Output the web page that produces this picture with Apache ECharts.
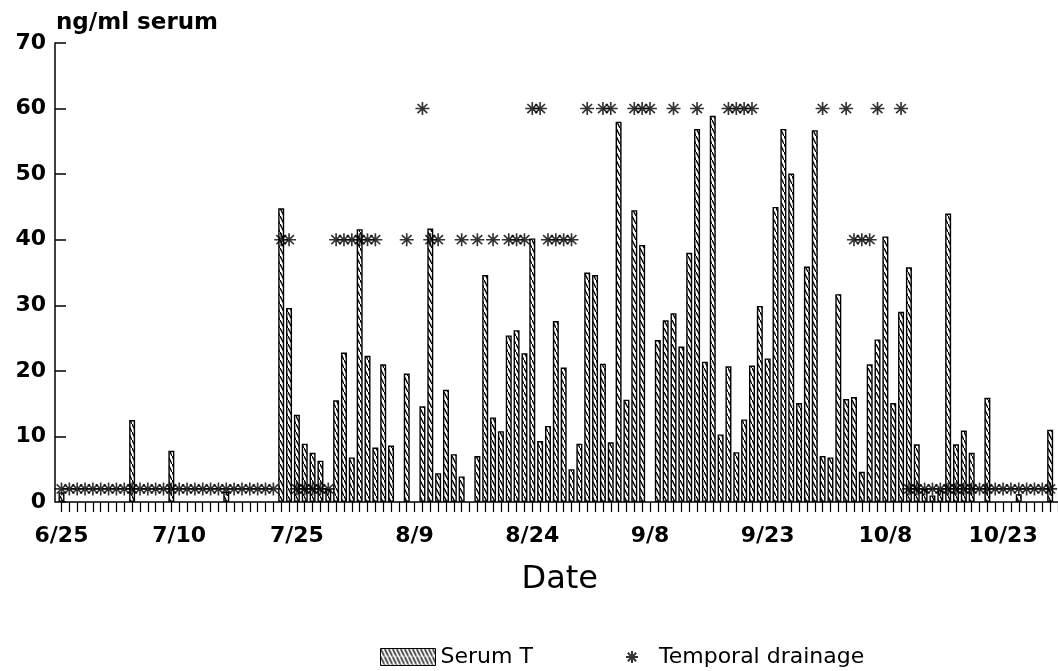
<!DOCTYPE html>
<html>
<head>
<meta charset="utf-8">
<script src="https://cdn.jsdelivr.net/npm/echarts@6/dist/echarts.min.js"></script>
<style>
  html, body { margin: 0; padding: 0; background: #fff; }
  #chart { width: 1058px; height: 671px; }
</style>
</head>
<body>
<div id="chart"></div>
<script>
// Daily axis: 6/25 through 10/30
const startMonth = 6;
const startDay = 25;
const dayCount = 128;
const monthLengths = { 6: 30, 7: 31, 8: 31, 9: 30, 10: 31 };

// Dates that carry a label on the x axis
const tickLabels = ['6/25', '7/10', '7/25', '8/9', '8/24', '9/8', '9/23', '10/8', '10/23'];
const yTicks = [0, 10, 20, 30, 40, 50, 60, 70];

// Serum T (ng/ml), one entry per day, null = no sample
const serumT = [
  1.5, null, null, null, null, null, null, null, null, 12.5, null, null, null, null, 7.8,
  null, null, null, null, null, null, 1.6, null, null, null, null, null, null, 44.8, 29.6,
  13.3, 8.9, 7.5, 6.3, 2.0, 15.5, 22.8, 6.8, 41.6, 22.3, 8.3, 21.0, 8.6, null, 19.6,
  null, 14.6, 41.7, 4.4, 17.1, 7.3, 3.9, null, 7.0, 34.6, 12.9, 10.8, 25.4, 26.2, 22.7,
  40.2, 9.3, 11.6, 27.6, 20.5, 5.0, 8.9, 35.0, 34.6, 21.1, 9.1, 58.0, 15.6, 44.5, 39.2,
  null, 24.7, 27.7, 28.8, 23.7, 38.0, 56.9, 21.4, 58.9, 10.3, 20.7, 7.6, 12.6, 20.8, 29.9,
  21.9, 45.0, 56.9, 50.1, 15.1, 35.9, 56.7, 7.0, 6.8, 31.7, 15.7, 16.0, 4.6, 21.0, 24.8,
  40.5, 15.1, 29.0, 35.8, 8.8, 2.0, 1.0, 1.8, 44.0, 8.8, 10.9, 7.5, null, 15.9, null,
  null, null, 1.2, null, null, null, 11.0, null
];

// Temporal drainage level, one entry per day (2 = low, 40 = moderate, 60 = heavy)
const drainage = [
  2, 2, 2, 2, 2, 2, 2, 2, 2, 2, 2, 2, 2, 2, 2,
  2, 2, 2, 2, 2, 2, 2, 2, 2, 2, 2, 2, 2, 40, 40,
  2, 2, 2, 2, 2, 40, 40, 40, 40, 40, 40, null, null, null, 40,
  null, 60, 40, 40, null, null, 40, null, 40, null, 40, null, 40, 40, 40,
  60, 60, 40, 40, 40, 40, null, 60, null, 60, 60, null, null, 60, 60,
  60, null, null, 60, null, null, 60, null, null, null, 60, 60, 60, 60, null,
  null, null, null, null, null, null, null, 60, null, null, 60, 40, 40, 40, 60,
  null, null, 60, 2, 2, 2, 2, 2, 2, 2, 2, 2, 2, 2, 2,
  2, 2, 2, 2, 2, 2, 2, null
];

// Build "m/d" labels for every day on the axis
const categories = [];
{
  let m = startMonth, d = startDay;
  for (let i = 0; i < dayCount; i++) {
    categories.push(m + '/' + d);
    d++;
    if (d > monthLengths[m]) { d = 1; m++; }
  }
}

// Diagonal hatch fill for the serum bars
function makeHatch() {
  const c = document.createElement('canvas');
  c.width = 4; c.height = 8;
  const g = c.getContext('2d');
  g.fillStyle = '#fff';
  g.fillRect(0, 0, 4, 8);
  g.strokeStyle = '#000';
  g.lineWidth = 1.3;
  g.beginPath();
  g.moveTo(-1, -2); g.lineTo(5, 10);
  g.stroke();
  return c;
}
const hatch = { image: makeHatch(), repeat: 'repeat' };

const starPath = 'path://M0,6H12M6,0V12M1.8,1.8L10.2,10.2M10.2,1.8L1.8,10.2';
const axisFont = 'DejaVu Sans';

const chart = echarts.init(document.getElementById('chart'), null, { renderer: 'canvas' });
chart.setOption({
  animation: false,
  backgroundColor: '#fff',
  title: {
    text: 'ng/ml serum',
    left: 51, top: 7,
    textStyle: { fontFamily: axisFont, fontWeight: 'bold', fontSize: 23, color: '#000' }
  },
  grid: { left: 61.5, right: 0, top: 43, bottom: 169, containLabel: false },
  legend: [
    {
      data: [{ name: 'Serum T', icon: 'rect', itemStyle: { color: hatch, borderColor: '#000', borderWidth: 1 } }],
      left: 375, top: 641,
      itemWidth: 55, itemHeight: 17, itemGap: 10,
      textStyle: { fontFamily: axisFont, fontSize: 22, color: '#000' }
    },
    {
      data: ['Temporal drainage'],
      left: 620, top: 641,
      itemWidth: 12, itemHeight: 12, itemGap: 10,
      textStyle: { fontFamily: axisFont, fontSize: 22, color: '#000', padding: [0, 0, 0, 16] }
    }
  ],
  xAxis: {
    type: 'category',
    data: categories,
    boundaryGap: false,
    name: 'Date',
    nameLocation: 'middle',
    nameGap: 62,
    nameTextStyle: { fontFamily: axisFont, fontSize: 32, color: '#000', verticalAlign: 'top' },
    axisLine: { lineStyle: { color: '#000', width: 1.5 } },
    axisTick: { show: true, interval: 0, length: 10, lineStyle: { color: '#000', width: 1.2 } },
    axisLabel: {
      interval: (idx, val) => tickLabels.includes(val),
      margin: 23,
      fontFamily: axisFont, fontWeight: 'bold', fontSize: 22, color: '#000'
    },
    splitLine: { show: false }
  },
  yAxis: {
    type: 'value',
    min: 0, max: 70, interval: 10,
    offset: 6.5,
    axisLine: { show: true, lineStyle: { color: '#000', width: 1.5 } },
    axisTick: { show: true, inside: true, length: 11, lineStyle: { color: '#000', width: 1.5 } },
    axisLabel: {
      margin: 9,
      fontFamily: axisFont, fontWeight: 'bold', fontSize: 22, color: '#000',
      formatter: v => (yTicks.includes(v) ? String(v) : '')
    },
    splitLine: { show: false }
  },
  series: [
    {
      name: 'Serum T',
      type: 'bar',
      data: serumT,
      barWidth: 6,
      clip: false,
      itemStyle: { color: hatch, borderColor: '#000', borderWidth: 1.4 },
      z: 2
    },
    {
      name: 'Temporal drainage',
      type: 'scatter',
      data: drainage,
      symbol: starPath,
      symbolSize: [14, 13],
      clip: false,
      itemStyle: { color: 'rgba(0,0,0,0)', borderColor: '#000', borderWidth: 1.6 },
      z: 3
    }
  ]
});
</script>
</body>
</html>
